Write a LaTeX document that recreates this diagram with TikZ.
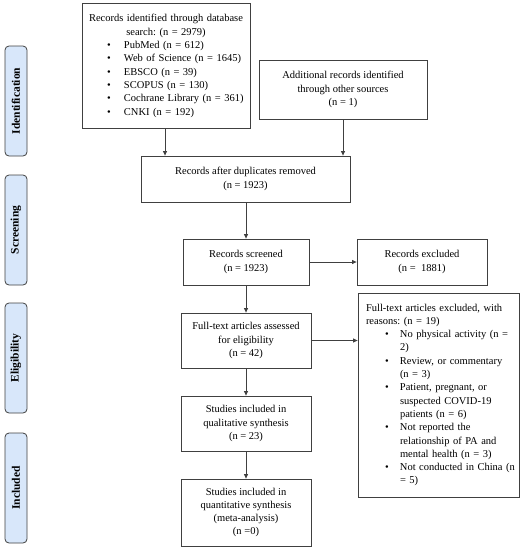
\documentclass[tikz,border=0pt]{standalone}
\usepackage{fontspec}
\setmainfont{Liberation Serif}
\usetikzlibrary{arrows.meta}
\definecolor{linegray}{HTML}{404040}
\definecolor{phasefill}{HTML}{D8E7FA}
\tikzset{
  box/.style={draw=linegray, line width=0.8pt, inner sep=0pt, align=center, font=\fontsize{10.5}{13.3}\selectfont\frenchspacing},
  phase/.style={draw=linegray, line width=0.8pt, fill=phasefill, rounded corners=4pt},
  phaselabel/.style={rotate=90, font=\fontsize{11.5}{13}\selectfont\bfseries},
  arr/.style={draw=linegray, line width=0.8pt, -{Triangle[length=4.5pt,width=4pt]}},
}
\newcommand{\bl}[1]{\mbox{\hspace*{19pt}\makebox[15pt][l]{\textbullet}#1}}
\newcommand{\bc}[1]{\mbox{\hspace*{34pt}#1}}
\begin{document}
\begin{tikzpicture}[x=1pt,y=-1pt]
\useasboundingbox (0,0) rectangle (531,550);
% phase labels
\draw[phase] (5,46) rectangle (27,156);
\node[phaselabel] (p1) at (16,101) {Identification};
\draw[phase] (5,175) rectangle (27,285);
\node[phaselabel] (p2) at (16,230) {Screening};
\draw[phase] (5,303) rectangle (27,413);
\node[phaselabel] (p3) at (16,358) {Eligibility};
\draw[phase] (5,433) rectangle (27,543);
\node[phaselabel] (p4) at (16,488) {Included};
% boxes
\node[box, minimum width=168pt, minimum height=125pt, text width=168pt, align=left] (A) at (166,65.5) {%
\makebox[168pt]{Records identified through database}\\[1pt]
\makebox[168pt]{search: (n = 2979)}\\
\hspace*{25pt}\makebox[17pt][l]{\textbullet}PubMed (n = 612)\\
\hspace*{25pt}\makebox[17pt][l]{\textbullet}Web of Science (n = 1645)\\
\hspace*{25pt}\makebox[17pt][l]{\textbullet}EBSCO (n = 39)\\
\hspace*{25pt}\makebox[17pt][l]{\textbullet}SCOPUS (n = 130)\\
\hspace*{25pt}\makebox[17pt][l]{\textbullet}Cochrane Library (n = 361)\\
\hspace*{25pt}\makebox[17pt][l]{\textbullet}CNKI (n = 192)};
\node[box, minimum width=168pt, minimum height=59pt] (B) at (343,89.5) {Additional records identified\\through other sources\\(n = 1)};
\node[box, minimum width=209pt, minimum height=46pt] (C) at (245.5,179) {Records after duplicates removed\\(n = 1923)};
\node[box, minimum width=126pt, minimum height=46pt] (D) at (246,262) {Records screened\\(n = 1923)};
\node[box, minimum width=130pt, minimum height=46pt] (E) at (422,262) {Records excluded\\(n =\ \ 1881)};
\node[box, minimum width=130pt, minimum height=55pt] (F) at (246,340.5) {Full-text articles assessed\\for eligibility\\(n = 42)};
\node[box, minimum width=161pt, minimum height=204pt, text width=145pt, inner xsep=8pt, align=left] (G) at (438.5,395) {%
Full-text articles excluded, with\\
reasons: (n = 19)\\
\bl{No physical activity (n =}\\
\bc{2)}\\
\bl{Review, or commentary}\\
\bc{(n = 3)}\\
\bl{Patient, pregnant, or}\\
\bc{suspected COVID-19}\\
\bc{patients (n = 6)}\\
\bl{Not reported the}\\
\bc{relationship of PA and}\\
\bc{mental health (n = 3)}\\
\bl{Not conducted in China (n}\\
\bc{= 5)}};
\node[box, minimum width=130pt, minimum height=55pt] (H) at (246,423.5) {Studies included in\\qualitative synthesis\\(n = 23)};
\node[box, minimum width=130pt, minimum height=67pt] (I) at (246,512.5) {Studies included in\\quantitative synthesis\\(meta-analysis)\\(n =0)};
% arrows
\draw[arr] (A.south -| 165,0) -- (C.north -| 165,0);
\draw[arr] (B.south) -- (C.north -| B.south);
\draw[arr] (C.south -| D.north) -- (D.north);
\draw[arr] (D.east) -- (E.west);
\draw[arr] (D.south) -- (F.north);
\draw[arr] (F.east) -- (G.west |- F.east);
\draw[arr] (F.south) -- (H.north);
\draw[arr] (H.south) -- (I.north);
\end{tikzpicture}
\end{document}
